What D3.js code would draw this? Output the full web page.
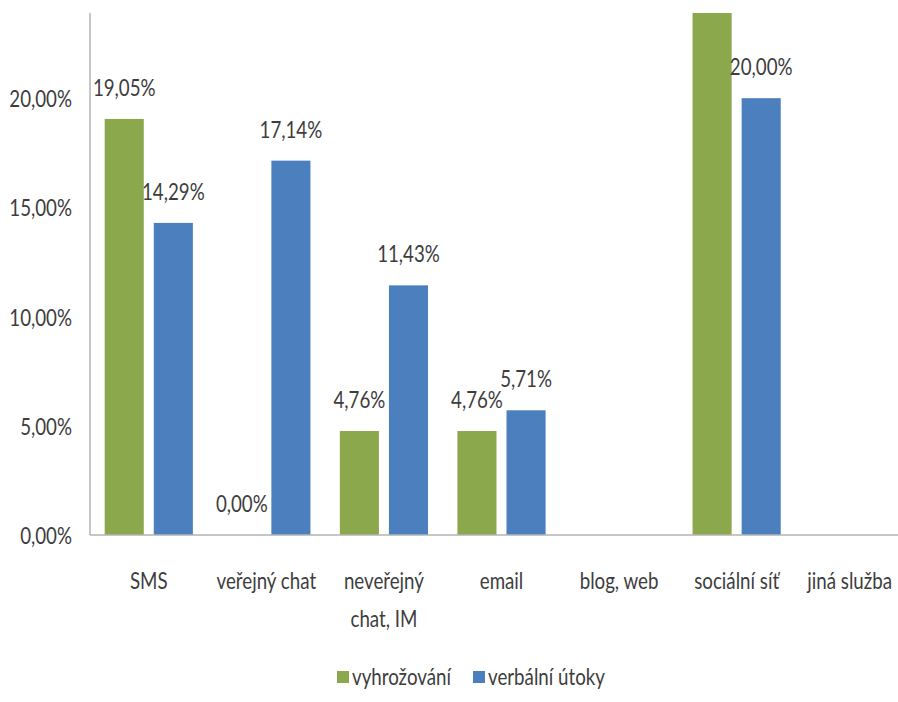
<!DOCTYPE html>
<html>
<head>
<meta charset="utf-8">
<script src="https://cdn.jsdelivr.net/npm/d3@7"></script>
<style>
  body { margin: 0; background: #fff; }
  text { font-family: Lato, "Open Sans", sans-serif; fill: #3d3d3d; }
</style>
</head>
<body>
<div id="chart"></div>
<script>
// chart data
const categories = ["SMS", "veřejný chat", "neveřejný chat, IM", "email", "blog, web", "sociální síť", "jiná služba"];
const seriesNames = ["vyhrožování", "verbální útoky"];
const threats = [19.05, 0, 4.76, 4.76, null, 42.86, null];
const verbal = [14.29, 17.14, 11.43, 5.71, null, 20.00, null];
const yTicks = [0, 5, 10, 15, 20];

const width = 898;
const height = 702;
const colors = ["#8BA84C", "#4B7FBE"];
const margin = { left: 90, top: 13, bottom: 535, right: 913 };
const squeeze = 0.78; // narrow look of the original font
const fontSize = "24px";

const svg = d3.select("#chart")
  .append("svg")
  .attr("width", width)
  .attr("height", height);

// shrink text horizontally to mimic a condensed face
function narrow(sel) {
  sel.each(function () {
    const len = this.getComputedTextLength();
    if (len > 0) {
      d3.select(this)
        .attr("textLength", len * squeeze)
        .attr("lengthAdjust", "spacingAndGlyphs");
    }
  });
}

const x = d3.scaleBand()
  .domain(categories)
  .range([margin.left, margin.right])
  .paddingInner(0.25)
  .paddingOuter(0.125);

const x1 = d3.scaleBand()
  .domain(seriesNames)
  .range([0, x.bandwidth()])
  .paddingInner(0.204);

const y = d3.scaleLinear()
  .domain([0, 23.9])
  .range([margin.bottom, margin.top]);

const fmt = v => d3.format(".2f")(v).replace(".", ",") + "%";

svg.append("clipPath").attr("id", "plot")
  .append("rect")
  .attr("x", margin.left).attr("y", margin.top)
  .attr("width", width - margin.left).attr("height", margin.bottom - margin.top);

// bars
const rows = [];
categories.forEach((c, i) => {
  [threats, verbal].forEach((s, j) => {
    if (s[i] != null) rows.push({ cat: c, series: seriesNames[j], value: s[i], idx: j });
  });
});

const plot = svg.append("g").attr("clip-path", "url(#plot)");

plot.selectAll("rect.bar")
  .data(rows)
  .enter().append("rect")
  .attr("class", "bar")
  .attr("x", d => x(d.cat) + x1(d.series))
  .attr("y", d => y(d.value))
  .attr("width", x1.bandwidth())
  .attr("height", d => y(0) - y(d.value))
  .attr("fill", d => colors[d.idx]);

// axes
svg.append("line")
  .attr("x1", margin.left).attr("x2", width)
  .attr("y1", y(0)).attr("y2", y(0))
  .attr("stroke", "#b3b3b3").attr("stroke-width", 1.5);

svg.append("line")
  .attr("x1", margin.left).attr("x2", margin.left)
  .attr("y1", margin.top).attr("y2", y(0))
  .attr("stroke", "#b3b3b3").attr("stroke-width", 1.5);

svg.selectAll("text.ytick")
  .data(yTicks)
  .enter().append("text")
  .attr("class", "ytick")
  .attr("x", 72)
  .attr("y", d => y(d) + 9)
  .attr("text-anchor", "end")
  .attr("font-size", fontSize)
  .text(fmt)
  .call(narrow);

// value labels
plot.selectAll("text.val")
  .data(rows.filter(d => d.value <= y.domain()[1]))
  .enter().append("text")
  .attr("class", "val")
  .attr("x", d => x(d.cat) + x1(d.series) + x1.bandwidth() / 2)
  .attr("y", d => y(d.value) - 23)
  .attr("text-anchor", "middle")
  .attr("font-size", fontSize)
  .text(d => fmt(d.value))
  .call(narrow);

// category labels, wrapped to the band
const catLabels = svg.selectAll("text.cat")
  .data(categories)
  .enter().append("text")
  .attr("class", "cat")
  .attr("x", d => x(d) + x.bandwidth() / 2)
  .attr("y", 589)
  .attr("text-anchor", "middle")
  .attr("font-size", fontSize);

catLabels.each(function (d) {
  const el = d3.select(this);
  const words = d.split(" ");
  let line = [];
  let tspan = el.append("tspan").attr("x", el.attr("x")).attr("dy", 0);
  words.forEach(w => {
    line.push(w);
    tspan.text(line.join(" "));
    if (tspan.node().getComputedTextLength() * squeeze > 112 && line.length > 1) {
      line.pop();
      tspan.text(line.join(" "));
      line = [w];
      tspan = el.append("tspan").attr("x", el.attr("x")).attr("dy", "1.6em").text(w);
    }
  });
  el.selectAll("tspan").call(narrow);
  // keep the last label inside the picture
  el.selectAll("tspan").each(function () {
    const t = d3.select(this);
    const half = +t.attr("textLength") / 2;
    const cx = +t.attr("x");
    if (cx + half > width - 6) t.attr("x", width - 6 - half);
  });
});

// legend
const legend = svg.append("g");
const legendX = [337, 473];
seriesNames.forEach((s, i) => {
  legend.append("rect")
    .attr("x", legendX[i]).attr("y", 671)
    .attr("width", 12).attr("height", 12)
    .attr("fill", colors[i]);
  legend.append("text")
    .attr("x", legendX[i] + 15).attr("y", 685)
    .attr("font-size", fontSize)
    .text(s)
    .call(narrow);
});
</script>
</body>
</html>
